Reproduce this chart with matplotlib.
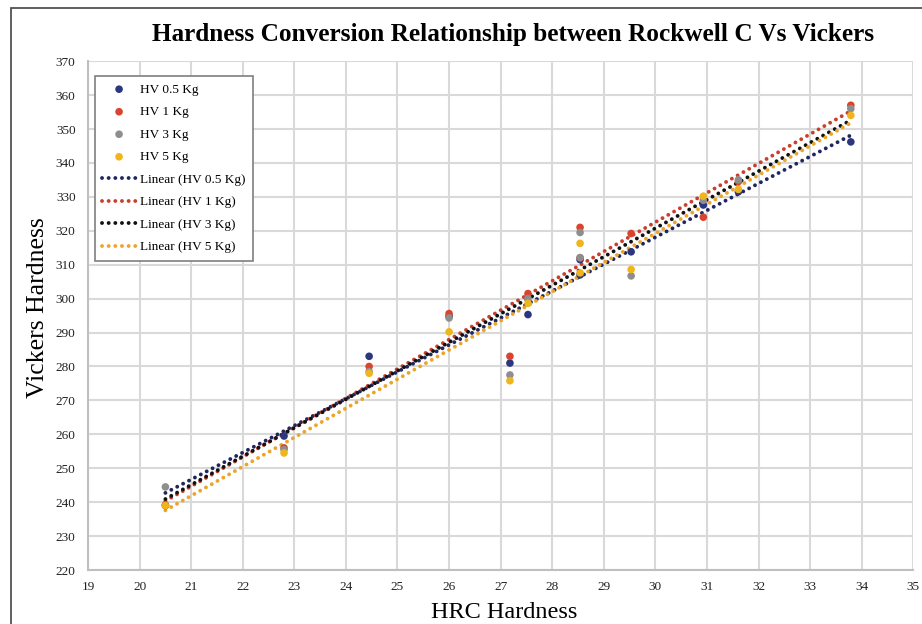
import matplotlib.pyplot as plt
import numpy as np
from matplotlib.patches import Rectangle

# HRC values (28.5 appears twice in the test set)
hrc = [20.5, 22.8, 24.45, 26.0, 27.18, 27.53, 28.54, 28.54, 29.53, 30.93, 31.61, 33.79]
hv_05 = [239.0, 259.5, 283.0, 294.8, 281.0, 295.3, 307.0, 311.5, 313.8, 327.6, 331.5, 346.2]
hv_1 = [239.2, 256.0, 280.0, 295.6, 283.0, 301.5, 321.0, 312.0, 319.2, 324.0, 334.5, 357.0]
hv_3 = [244.5, 255.5, 278.5, 294.3, 277.5, 300.0, 319.5, 312.1, 306.7, 329.0, 335.0, 356.0]
hv_5 = [239.0, 254.5, 278.0, 290.2, 275.8, 298.6, 316.3, 307.6, 308.6, 330.2, 332.2, 354.0]

series = [
    ('HV 0.5 Kg', hv_05, '#2B3580', '#1F2660'),
    ('HV 1 Kg', hv_1, '#D9442E', '#C8402D'),
    ('HV 3 Kg', hv_3, '#8E8E8E', '#111111'),
    ('HV 5 Kg', hv_5, '#F0B51C', '#EBA52A'),
]

plt.rcParams['font.family'] = ['Liberation Serif', 'DejaVu Serif']

fig = plt.figure(figsize=(9.22, 6.24), dpi=100)
ax = fig.add_axes([0.0955, 0.0865, 0.895, 0.8155])

# outer frame of the chart area
fig.patches.append(Rectangle((11 / 922, -0.05), 1.2, 1 - 8 / 624 + 0.05,
                             transform=fig.transFigure, fill=False,
                             edgecolor='#444444', linewidth=1.2))

x = np.array(hrc)
scat = []
lines = []
for name, vals, col, lcol in series:
    s = ax.scatter(x, vals, s=30, color=col, zorder=3, label=name, edgecolors='none')
    scat.append(s)
for name, vals, col, lcol in series:
    k, b = np.polyfit(x, vals, 1)
    xx = np.array([x.min(), x.max()])
    l, = ax.plot(xx, k * xx + b, color=lcol, linestyle=(0, (0.01, 1.7)),
                 linewidth=2.8, dash_capstyle='round', zorder=2,
                 label='Linear (' + name + ')')
    lines.append(l)

ax.set_xlim(19, 35)
ax.set_ylim(220, 370)
ax.set_xticks(range(19, 36))
ax.set_yticks(range(220, 371, 10))
ax.grid(True, color='#D9D9D9', linewidth=1.5)
ax.set_axisbelow(True)
for side in ['top', 'right']:
    ax.spines[side].set_visible(False)
for side in ['left', 'bottom']:
    ax.spines[side].set_color('#BFBFBF')
    ax.spines[side].set_linewidth(1.5)
ax.tick_params(axis='both', length=0, labelsize=9.5, colors='#222222')
ax.tick_params(axis='x', pad=8)
ax.tick_params(axis='y', pad=9)

ax.set_xlabel('HRC Hardness', fontsize=17.5)
ax.set_ylabel('Vickers Hardness', fontsize=18.5)
ax.xaxis.set_label_coords(0.504, -0.063, transform=ax.transAxes)
ax.yaxis.set_label_coords(-0.047, 0.515, transform=ax.transAxes)
fig.text(0.556, 0.945, 'Hardness Conversion Relationship between Rockwell C Vs Vickers',
         ha='center', va='center', fontsize=18.2, fontweight='bold')

leg = ax.legend(handles=scat + lines, loc='upper left',
                bbox_to_anchor=(0.008, 0.9705), borderaxespad=0,
                fontsize=9.5, frameon=True,
                fancybox=False, edgecolor='#7F7F7F', framealpha=1,
                handlelength=2.6, handletextpad=0.3, labelspacing=0.78,
                borderpad=0.55)
leg.get_frame().set_linewidth(1.2)

fig.savefig('out.png', dpi=100)
